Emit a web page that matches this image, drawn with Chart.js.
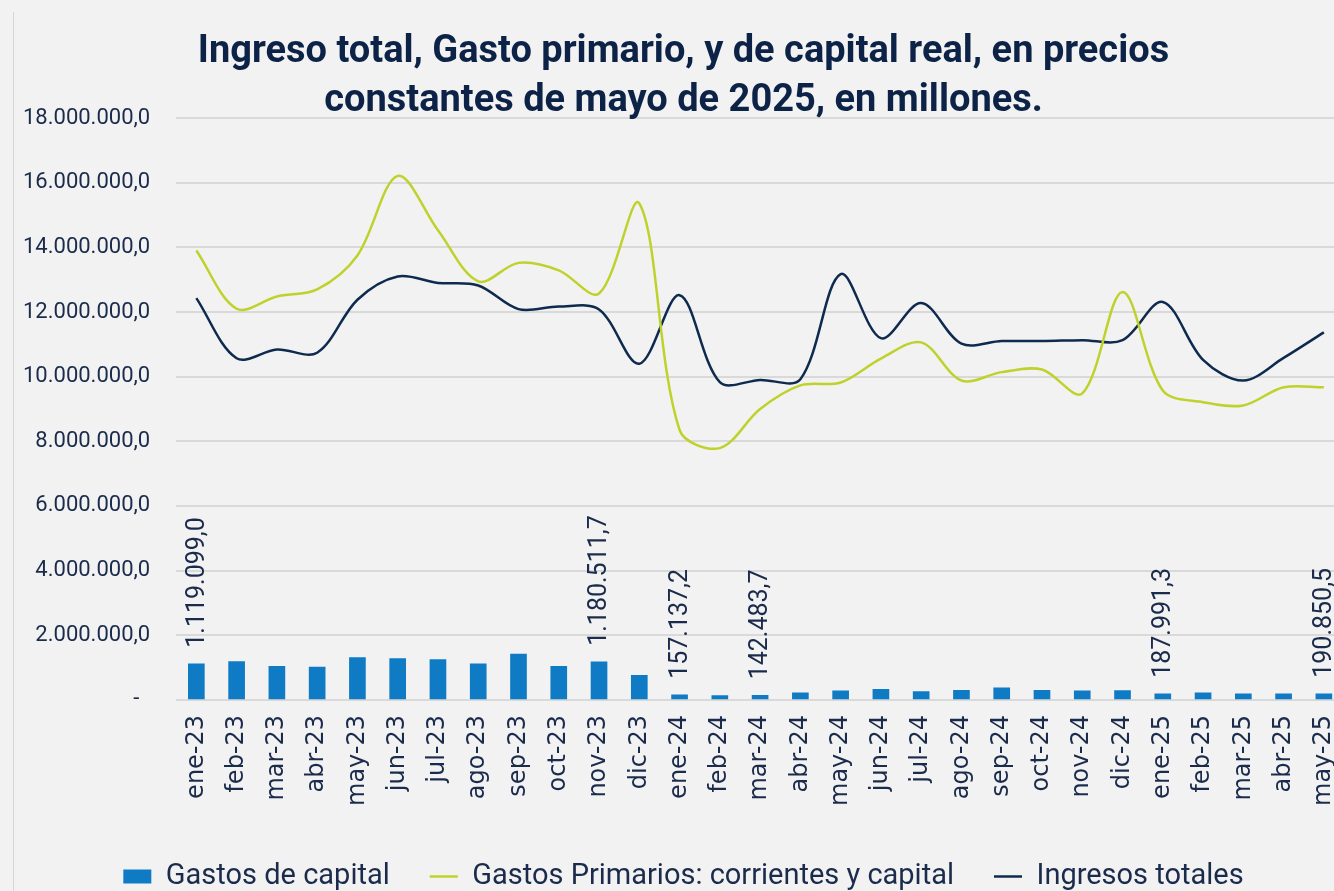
<!DOCTYPE html>
<html lang="es">
<head>
<meta charset="utf-8">
<title>Ingreso total, Gasto primario, y de capital real</title>
<script src="https://cdn.jsdelivr.net/npm/chart.js@4.4.1/dist/chart.umd.min.js"></script>
<style>
  html, body { margin: 0; padding: 0; background: #f2f2f2; overflow: hidden; }
  #frame { position: relative; width: 1334px; height: 891px; overflow: hidden; }
  #frame .edge { position: absolute; left: 13px; top: 12px; bottom: 0; width: 1px; background: #d6d6d6; }
  #chart { position: absolute; left: 0; top: 0; }
</style>
</head>
<body>
<div id="frame">
  <div class="edge"></div>
  <canvas id="chart" width="1345" height="901"></canvas>
</div>
<script>
// ── Data ─────────────────────────────────────────────────────────────────
const months = [
  'ene-23', 'feb-23', 'mar-23', 'abr-23', 'may-23', 'jun-23', 'jul-23', 'ago-23', 'sep-23', 'oct-23', 'nov-23', 'dic-23',
  'ene-24', 'feb-24', 'mar-24', 'abr-24', 'may-24', 'jun-24', 'jul-24', 'ago-24', 'sep-24', 'oct-24', 'nov-24', 'dic-24',
  'ene-25', 'feb-25', 'mar-25', 'abr-25', 'may-25'
];

const gastosCapital = [
  1119099.0, 1190000, 1040000, 1020000, 1310000, 1280000, 1250000, 1115000, 1420000, 1040000, 1180511.7, 760000,
  157137.2, 134000, 142483.7, 217000, 279000, 330000, 258000, 300000, 372000, 300000, 279000, 290000,
  187991.3, 217000, 186000, 186000, 190850.5
];

const gastosPrimarios = [
  13900000, 12100000, 12480000, 12700000, 13750000, 16210000, 14530000, 12950000, 13520000, 13290000, 12570000, 15360000,
  8350000, 7790000, 9000000, 9730000, 9820000, 10560000, 11060000, 9880000, 10140000, 10220000, 9480000, 12620000,
  9570000, 9210000, 9110000, 9670000, 9670000
];

const ingresosTotales = [
  12430000, 10570000, 10840000, 10740000, 12380000, 13100000, 12900000, 12820000, 12090000, 12170000, 12080000, 10400000,
  12520000, 9830000, 9900000, 9920000, 13170000, 11190000, 12280000, 11020000, 11100000, 11100000, 11130000, 11130000,
  12310000, 10520000, 9880000, 10580000, 11370000
];

// months whose capital bar carries a value label
const labelledMonths = ['ene-23', 'nov-23', 'ene-24', 'mar-24', 'ene-25', 'may-25'];

const yMin = 0, yMax = 18000000, yStep = 2000000;

const titleLines = [
  'Ingreso total, Gasto primario, y de capital real, en precios',
  'constantes de mayo de 2025, en millones.'
];

// ── Colours ──────────────────────────────────────────────────────────────
const TEXT = '#1b2b4b';
const TITLE = '#0c2347';
const BLUE = '#0f7bc4';
const GREEN = '#bfd22b';
const NAVY = '#0e2a4e';
const GRID = '#d9d9d9';

// 18000000 -> "18.000.000,0"
function fmt(v) {
  const [ent, dec] = Math.abs(v).toFixed(1).split('.');
  return ent.replace(/\B(?=(\d{3})+(?!\d))/g, '.') + ',' + dec;
}

// rotated value labels above selected bars
const barLabels = {
  id: 'barLabels',
  afterDatasetsDraw(chart) {
    const meta = chart.getDatasetMeta(0);
    const ctx = chart.ctx;
    ctx.save();
    ctx.font = '25px Roboto';
    ctx.fillStyle = TEXT;
    ctx.textAlign = 'left';
    ctx.textBaseline = 'middle';
    meta.data.forEach((bar, i) => {
      if (!labelledMonths.includes(months[i])) return;
      ctx.save();
      ctx.translate(bar.x, bar.y - 16);
      ctx.rotate(-Math.PI / 2);
      ctx.fillText(fmt(gastosCapital[i]), 0, 1);
      ctx.restore();
    });
    ctx.restore();
  }
};

new Chart(document.getElementById('chart'), {
  type: 'bar',
  data: {
    labels: months,
    datasets: [
      {
        label: 'Gastos de capital',
        data: gastosCapital,
        backgroundColor: BLUE,
        borderWidth: 0,
        barThickness: 16,
        pointStyle: 'rect'
      },
      {
        type: 'line',
        label: 'Gastos Primarios: corrientes y capital',
        data: gastosPrimarios,
        borderColor: GREEN,
        backgroundColor: GREEN,
        borderWidth: 2.5,
        pointRadius: 0,
        pointStyle: 'line',
        tension: 0.33,
        fill: false
      },
      {
        type: 'line',
        label: 'Ingresos totales',
        data: ingresosTotales,
        borderColor: NAVY,
        backgroundColor: NAVY,
        borderWidth: 2.5,
        pointRadius: 0,
        pointStyle: 'line',
        tension: 0.33,
        fill: false
      }
    ]
  },
  options: {
    responsive: false,
    animation: false,
    layout: { padding: { left: 23, right: 1, top: 28, bottom: 0 } },
    plugins: {
      title: {
        display: true,
        text: titleLines,
        color: TITLE,
        font: { family: 'Roboto', size: 38, weight: 'bold', lineHeight: 1.29 },
        padding: { top: 0, bottom: -8 }
      },
      legend: {
        position: 'bottom',
        labels: {
          usePointStyle: true,
          pointStyleWidth: 28,
          boxHeight: 14,
          padding: 40,
          color: TEXT,
          font: { family: 'Roboto', size: 29 }
        }
      },
      tooltip: { enabled: false }
    },
    scales: {
      x: {
        grid: { display: false, drawTicks: false },
        border: { display: false },
        ticks: {
          autoSkip: false,
          minRotation: 90,
          maxRotation: 90,
          padding: 15,
          color: TEXT,
          font: { family: 'DejaVu Sans', size: 24 }
        },
        afterFit(scale) {
          scale.paddingLeft = 0;
          scale.paddingRight = 0;
          scale.height += 1;
        }
      },
      y: {
        min: yMin,
        max: yMax,
        grid: { color: GRID, lineWidth: 2, drawTicks: false },
        border: { display: false },
        ticks: {
          stepSize: yStep,
          padding: 26,
          color: TEXT,
          font: { family: 'Roboto', size: 22 },
          callback: v => (v === 0 ? '-  ' : fmt(v))
        },
        // tick padding is counted on both sides of the labels; keep only one
        afterFit(scale) { scale.width -= 26; }
      }
    }
  },
  plugins: [barLabels]
});
</script>
</body>
</html>
